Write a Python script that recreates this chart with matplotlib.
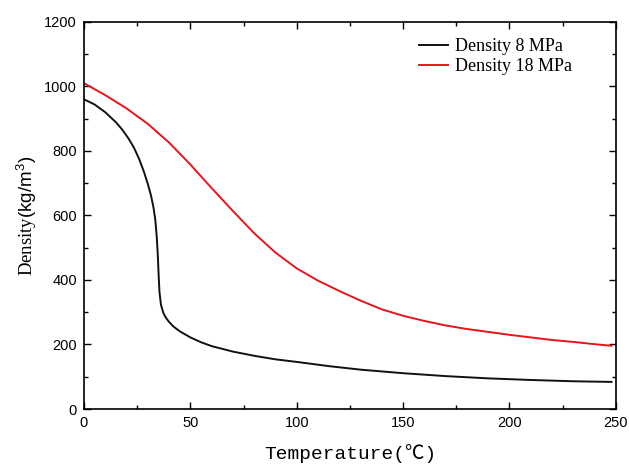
import numpy as np
import matplotlib
matplotlib.use("Agg")
import matplotlib.pyplot as plt
from matplotlib.ticker import MultipleLocator

# values
t_8 = [0, 5, 10, 15, 18, 21, 23.5, 26, 28.2, 30, 31.5, 32.7, 33.5, 34.2, 34.7,
       35.1, 35.5, 36.2, 37.3, 38.5, 40, 42, 45, 50, 55, 60, 70, 80, 90, 100,
       115, 130, 150, 170, 190, 210, 230, 248]
rho_8 = [960, 944, 920, 889, 866, 838, 810, 774, 735, 698, 662, 624, 588, 535,
         478, 415, 362, 323, 298, 283, 270, 256, 241, 222, 207, 195, 178, 165,
         154, 146, 133, 122, 111, 102, 95, 90, 86, 84]

t_18 = [0, 10, 20, 30, 40, 50, 60, 70, 80, 90, 100, 110, 120, 130, 140, 150,
        160, 170, 180, 190, 200, 210, 220, 230, 240, 248]
rho_18 = [1010, 973, 932, 884, 826, 758, 685, 614, 545, 485, 436, 398, 366,
          336, 309, 289, 273, 259, 248, 239, 230, 222, 214, 208, 201, 196]

plt.rcParams['mathtext.fontset'] = 'custom'
plt.rcParams['mathtext.rm'] = 'Liberation Sans'
plt.rcParams['mathtext.it'] = 'Liberation Sans'
plt.rcParams['mathtext.sf'] = 'Liberation Sans'

fig = plt.figure(figsize=(6.29, 4.66), dpi=100)
ax = fig.add_axes([0.1335, 0.1223, 0.8455, 0.8307])

ax.plot(t_8, rho_8, color='#111111', lw=1.4, label='Density 8 MPa')
ax.plot(t_18, rho_18, color='#e8141c', lw=1.4, label='Density 18 MPa')

ax.set_xlim(0, 250)
ax.set_ylim(0, 1200)
ax.xaxis.set_major_locator(MultipleLocator(50))
ax.xaxis.set_minor_locator(MultipleLocator(25))
ax.yaxis.set_major_locator(MultipleLocator(200))
ax.yaxis.set_minor_locator(MultipleLocator(100))
ax.tick_params(which='both', direction='in', top=True, right=True,
               labelsize=10.5, width=1)
ax.tick_params(which='major', length=5, pad=5)
ax.tick_params(which='minor', length=3)
for lab in ax.get_xticklabels() + ax.get_yticklabels():
    lab.set_fontfamily('Liberation Sans')
for sp in ax.spines.values():
    sp.set_linewidth(1.2)

ax.set_xlabel('Temperature(℃)', fontsize=14,
              family=['Liberation Mono', 'Noto Sans CJK SC'], labelpad=10)
ax.set_ylabel(r'Density$\mathrm{(kg/m^3)}$', fontsize=13.5,
              family='Liberation Serif', labelpad=4)

leg = ax.legend(loc='upper left', bbox_to_anchor=(0.60, 1.0), frameon=False,
                prop={'family': 'Liberation Serif', 'size': 13},
                handlelength=1.6, handletextpad=0.4, labelspacing=0.15)

fig.savefig('out.png', dpi=100)
